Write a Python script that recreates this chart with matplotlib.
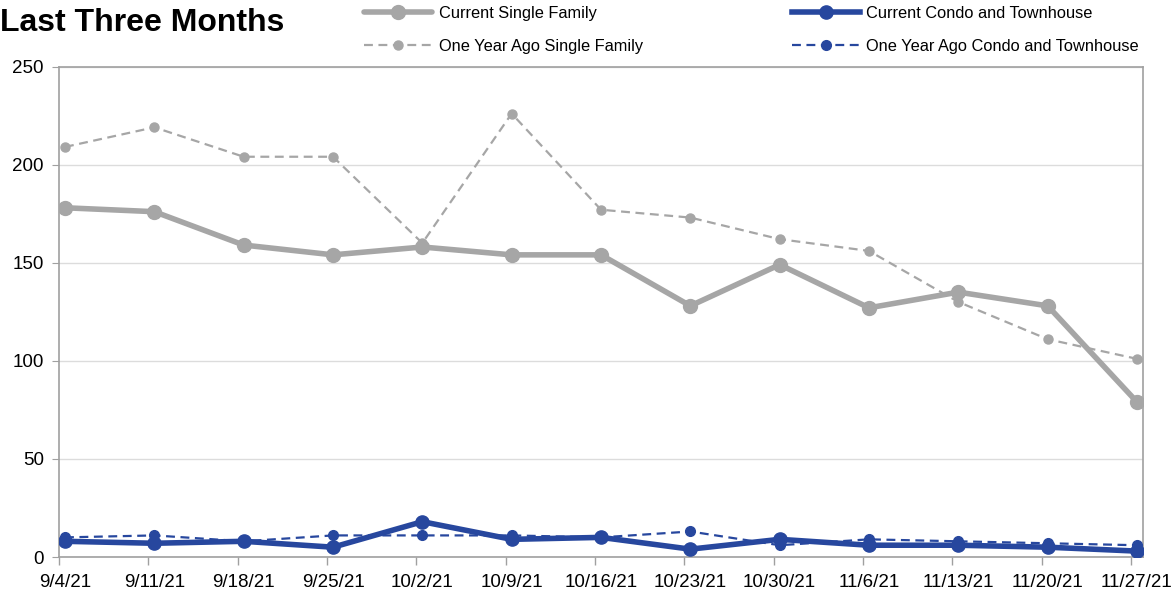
import matplotlib
matplotlib.use("Agg")
import matplotlib.pyplot as plt
import numpy as np

dates = ["9/4/21", "9/11/21", "9/18/21", "9/25/21", "10/2/21", "10/9/21", "10/16/21",
         "10/23/21", "10/30/21", "11/6/21", "11/13/21", "11/20/21", "11/27/21"]
cur_sf = [178, 176, 159, 154, 158, 154, 154, 128, 149, 127, 135, 128, 79]
ago_sf = [209, 219, 204, 204, 160, 226, 177, 173, 162, 156, 130, 111, 101]
cur_condo = [8, 7, 8, 5, 18, 9, 10, 4, 9, 6, 6, 5, 3]
ago_condo = [10, 11, 8, 11, 11, 11, 10, 13, 6, 9, 8, 7, 6]

GRAY = "#A6A6A6"
BLUE = "#27479E"

plt.rcParams['font.family'] = ['Liberation Sans', 'DejaVu Sans']

fig = plt.figure(figsize=(11.73, 5.94), dpi=100)
ax = fig.add_axes([59/1173, 1-557/594, (1143-59)/1173, (557-66.5)/594])

x = np.arange(len(dates))
l1, = ax.plot(x, cur_sf, color=GRAY, lw=4, marker='o', ms=10, solid_capstyle='round', zorder=3)
l2, = ax.plot(x, ago_sf, color=GRAY, lw=1.6, ls=(0, (4, 2.5)), marker='o', ms=6.5, zorder=2)
l3, = ax.plot(x, cur_condo, color=BLUE, lw=4, marker='o', ms=9.5, zorder=5)
l4, = ax.plot(x, ago_condo, color=BLUE, lw=1.6, ls=(0, (4, 2.5)), marker='o', ms=7, zorder=4)

ax.set_ylim(0, 250)
ax.set_yticks(range(0, 251, 50))
off = 6/89.3
ax.set_xlim(-off, len(dates)-1+off)
ax.set_xticks(x)
ax.set_xticklabels(dates)
ax.set_xticks(x - off, minor=True)
ax.tick_params(axis='x', which='major', length=0, pad=12, labelsize=13.5)
ax.tick_params(axis='x', which='minor', length=6, color='#A0A0A0', width=1)
ax.tick_params(axis='y', length=5, color='#A0A0A0', labelsize=13.5, pad=6)
ax.grid(axis='y', color='#DCDCDC', lw=1)
ax.set_axisbelow(True)
for s in ax.spines.values():
    s.set_color('#A0A0A0')
    s.set_linewidth(1.2)

fig.text(0.0, 1-23/594, "Last Three Months", fontsize=23, fontweight='bold',
         va='center', ha='left')

leg = fig.legend([l1, l2, l3, l4],
                 ["Current Single Family", "One Year Ago Single Family",
                  "Current Condo and Townhouse", "One Year Ago Condo and Townhouse"],
                 ncol=2, loc='upper left', bbox_to_anchor=(364/1173, 1-6/594),
                 frameon=False, fontsize=11.8, handlelength=4.15, handletextpad=0.4,
                 columnspacing=9.1, labelspacing=1.1, borderpad=0, borderaxespad=0)

fig.savefig("out.png", dpi=100)
